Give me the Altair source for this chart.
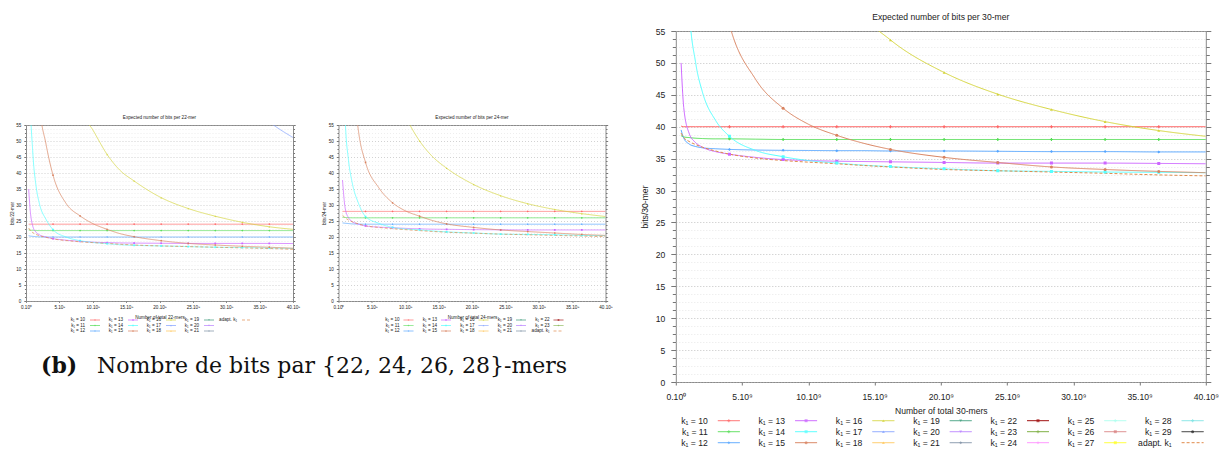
import altair as alt
import pandas as pd

FONT = "Liberation Sans"

# sampling positions (units of 1e9 k-mers) and the positions where gnuplot drew markers
XS = [0.4, 0.6, 1.0, 1.5, 2.0, 3.0, 4.05, 6.0, 8.1, 10.0, 12.15, 14.0, 16.2, 20.25, 24.3, 28.35, 32.4, 36.45, 40.0]
MARKER_X = [4.05, 8.1, 12.15, 16.2, 20.25, 24.3, 28.35, 32.4, 36.45]
X_TICKS = [0, 5, 10, 15, 20, 25, 30, 35, 40]

# ---- 22-mers ----
K10_22 = [24.0, 24.0, 24.0, 24.0, 24.0, 24.0, 24.0, 24.0, 24.0, 24.0, 24.0, 24.0, 24.0, 24.0, 24.0, 24.0, 24.0, 24.0, 24.0]
K11_22 = [22.2, 22.1, 22.1, 22.0, 22.0, 22.0, 22.0, 22.0, 22.0, 22.0, 22.0, 22.0, 22.0, 22.0, 22.0, 22.0, 22.0, 22.0, 22.0]
K12_22 = [20.4, 20.3, 20.2, 20.1, 20.05, 20.0, 20.0, 20.0, 20.0, 20.0, 20.0, 20.0, 20.0, 20.0, 20.0, 20.0, 20.0, 20.0, 20.0]
K13_22 = [35.0, 29.0, 23.5, 21.5, 20.7, 20.0, 19.5, 19.0, 18.65, 18.4, 18.25, 18.15, 18.1, 18.05, 18.0, 18.0, 18.0, 18.0, 17.95]
K14_22 = [110, 66, 47, 36, 30.5, 25.5, 22.3, 20.0, 18.85, 18.3, 17.9, 17.6, 17.4, 17.2, 17.0, 16.8, 16.7, 16.55, 16.4]
K15_22 = [300, 210, 130, 88, 62, 49, 39.3, 30.5, 26.6, 24.2, 22.4, 21.1, 20.1, 18.85, 18.0, 17.5, 17.1, 16.8, 16.5]
K16_22 = [900, 600, 380, 260, 200, 140, 110, 80, 60, 53.5, 45.8, 41.0, 37.5, 32.3, 28.9, 26.5, 24.6, 23.2, 22.4]
K17_22 = [None, None, None, None, None, None, None, None, None, None, None, None, None, 100, 86, 74, 64, 56, 51.1]
ADAPT_22 = [22.8, 22.2, 21.4, 20.8, 20.4, 19.9, 19.4, 18.9, 18.5, 18.25, 18.0, 17.75, 17.5, 17.2, 17.0, 16.8, 16.6, 16.4, 16.15]

# ---- 24-mers ----
K10_24 = [None, 28.0, 28.0, 28.0, 28.0, 28.0, 28.0, 28.0, 28.0, 28.0, 28.0, 28.0, 28.0, 28.0, 28.0, 28.0, 28.0, 28.0, 28.0]
K11_24 = [None, 26.2, 26.1, 26.05, 26.0, 26.0, 26.0, 26.0, 26.0, 26.0, 26.0, 26.0, 26.0, 26.0, 26.0, 26.0, 26.0, 26.0, 26.0]
K12_24 = [None, 24.4, 24.3, 24.2, 24.1, 24.05, 24.0, 24.0, 24.0, 24.0, 24.0, 24.0, 24.0, 24.0, 24.0, 24.0, 24.0, 24.0, 24.0]
K13_24 = [None, 37.8, 29.0, 26.0, 24.9, 24.0, 23.45, 23.1, 22.9, 22.7, 22.55, 22.45, 22.4, 22.3, 22.25, 22.2, 22.2, 22.2, 22.2]
K14_24 = [None, 90, 57, 44, 37.5, 30.5, 26.4, 24.3, 23.0, 22.5, 22.2, 21.9, 21.6, 21.25, 20.9, 20.8, 20.7, 20.5, 20.4]
K15_24 = [None, 230, 150, 100, 75, 53, 43.3, 35.5, 30.7, 28.2, 26.5, 25.2, 24.1, 23.0, 22.2, 21.7, 21.25, 20.8, 20.5]
K16_24 = [None, 650, 420, 290, 220, 150, 120, 85, 68, 58, 50.0, 45.3, 41.5, 36.4, 32.9, 30.4, 28.6, 27.3, 26.4]
ADAPT_24 = [None, 26.8, 26.0, 25.3, 24.8, 24.1, 23.5, 23.0, 22.6, 22.3, 22.0, 21.75, 21.5, 21.2, 20.9, 20.7, 20.5, 20.3, 20.1]

# ---- 30-mers ----
K10_30 = [40.1, 40.0, 40.0, 40.0, 40.0, 40.0, 40.0, 40.0, 40.0, 40.0, 40.0, 40.0, 40.0, 40.0, 40.0, 40.0, 40.0, 40.0, 40.0]
K11_30 = [38.6, 38.4, 38.3, 38.2, 38.15, 38.1, 38.1, 38.05, 38.0, 38.0, 38.0, 38.0, 38.0, 38.0, 38.0, 38.0, 38.0, 38.0, 38.0]
K12_30 = [39.5, 38.2, 37.3, 36.9, 36.7, 36.55, 36.45, 36.35, 36.3, 36.28, 36.25, 36.25, 36.2, 36.2, 36.15, 36.1, 36.1, 36.05, 36.05]
K13_30 = [50.0, 43.0, 39.0, 37.5, 36.8, 36.1, 35.7, 35.2, 34.85, 34.7, 34.6, 34.55, 34.5, 34.4, 34.3, 34.3, 34.3, 34.25, 34.2]
K14_30 = [110, 85, 59, 50, 45.5, 41.0, 38.5, 36.3, 35.3, 34.7, 34.3, 34.0, 33.75, 33.4, 33.1, 33.0, 32.9, 32.85, 32.8]
K15_30 = [400, 300, 160, 115, 90, 66, 56, 47.5, 42.9, 40.4, 38.65, 37.5, 36.45, 35.2, 34.4, 33.7, 33.3, 33.0, 32.8]
K16_30 = [1500, 1000, 600, 420, 320, 220, 160, 110, 82, 72, 64.5, 57.8, 53.6, 48.5, 45.1, 42.7, 40.8, 39.4, 38.5]
ADAPT_30 = [39.0, 38.3, 37.7, 37.2, 36.8, 36.2, 35.7, 35.1, 34.7, 34.45, 34.2, 33.95, 33.7, 33.3, 33.1, 32.9, 32.7, 32.45, 32.3]

K1_KEYS = ["10", "11", "12", "13", "14", "15", "16", "17", "18", "19", "20",
           "21", "22", "23", "24", "25", "26", "27", "28", "29", "adapt"]
K1_COLORS = ["#ff6666", "#55dd55", "#55a5ff", "#cc66ff", "#55ffff", "#d8825f", "#d4d43c",
             "#7f9fff", "#ffc455", "#3a9a78", "#b77fff", "#7d8fa3", "#a01010", "#7fb045",
             "#ff99ff", "#aaffee", "#d97f7f", "#ffff22", "#77e2e2", "#222222", "#e08a4a"]
K1_SHAPES = ["cross", "cross", "diamond", "square", "square", "circle", "triangle-up",
             "triangle-up", "triangle-up", "triangle-down", "triangle-down", "diamond",
             "square", "cross", "diamond", "cross", "square", "square", "cross", "circle", "circle"]

SERIES_22 = [("10", K10_22), ("11", K11_22), ("12", K12_22), ("13", K13_22), ("14", K14_22),
             ("15", K15_22), ("16", K16_22), ("17", K17_22), ("adapt", ADAPT_22)]
SERIES_24 = [("10", K10_24), ("11", K11_24), ("12", K12_24), ("13", K13_24), ("14", K14_24),
             ("15", K15_24), ("16", K16_24), ("adapt", ADAPT_24)]
SERIES_30 = [("10", K10_30), ("11", K11_30), ("12", K12_30), ("13", K13_30), ("14", K14_30),
             ("15", K15_30), ("16", K16_30), ("adapt", ADAPT_30)]

LEGEND_22 = K1_KEYS[:12] + ["adapt"]
LEGEND_24 = K1_KEYS[:14] + ["adapt"]
LEGEND_30 = K1_KEYS

CAPTION_B = "(b)"
CAPTION_REST = "Nombre de bits par {22, 24, 26, 28}-mers"

Y_MINOR = [i * 1.25 for i in range(45)]
MAJOR = "datum.value % 5 === 0"

color_scale = alt.Scale(domain=K1_KEYS, range=K1_COLORS)
shape_scale = alt.Scale(domain=K1_KEYS, range=K1_SHAPES)
dash_scale = alt.Scale(domain=["solid", "dash"], range=[[1, 0], [3, 2]])


def label_of(k):
    return "adapt. k\u2081" if k == "adapt" else "k\u2081 = " + k


def plot_panel(series, mer, w, h, s):
    rows = []
    for key, vals in series:
        for x, y in zip(XS, vals):
            if y is None:
                continue
            rows.append(dict(x=x, y=y, key=key,
                             dash="dash" if key == "adapt" else "solid",
                             mark=(x in MARKER_X) and key != "adapt"))
    df = pd.DataFrame(rows)
    xs = alt.Scale(domain=[0, 40], nice=False, zero=False)
    ys = alt.Scale(domain=[0, 55], nice=False, zero=False)
    tick_cond = {"condition": {"test": MAJOR, "value": s["tick"]}, "value": s["tick"] * 0.7}
    xaxis = alt.Axis(values=X_TICKS, grid=False, domain=False, labelOverlap=False,
                     labelBound=False, labelSeparation=0,
                     labelExpr="datum.value === 0 ? '0.10\u2070' : datum.value + '.10\u2079'",
                     labelFlush=False, labelFontSize=s["fs"], labelPadding=s["xlp"],
                     tickSize=s["tick"] * 0.6, tickColor="#777", labelColor="#222",
                     titleFontSize=s["fs"], titleFontWeight="normal", titlePadding=s["xtp"],
                     titleColor="#222", title="Number of total %d-mers" % mer)
    yaxis = alt.Axis(values=Y_MINOR, labelExpr=MAJOR + " ? datum.label : ''",
                     labelOverlap=False, domain=False, tickSize=tick_cond, tickColor="#777",
                     gridColor={"condition": {"test": MAJOR, "value": "#b4b4b4"}, "value": "#e2e2e2"},
                     gridDash=[1, 2], gridWidth=s["gw"],
                     labelFontSize=s["fs"], labelPadding=s["ylp"], labelColor="#222",
                     titleFontSize=s["fs"], titleFontWeight="normal", titlePadding=s["ytp"],
                     titleColor="#222", title="bits/%d-mer" % mer)
    raxis = alt.Axis(orient="right", values=Y_MINOR, labels=False, grid=False, domain=False,
                     tickSize=tick_cond, tickColor="#777", title=None)
    base = alt.Chart(df)
    lines = base.mark_line(clip=True, strokeWidth=s["sw"], interpolate="monotone").encode(
        x=alt.X("x:Q", scale=xs, axis=xaxis),
        y=alt.Y("y:Q", scale=ys, axis=yaxis),
        color=alt.Color("key:N", scale=color_scale, legend=None),
        strokeDash=alt.StrokeDash("dash:N", scale=dash_scale, legend=None),
        detail="key:N",
    )
    pts = base.transform_filter("datum.mark").mark_point(
        clip=True, filled=True, size=s["ms"], opacity=1).encode(
        x=alt.X("x:Q", scale=xs, axis=xaxis),
        y=alt.Y("y:Q", scale=ys, axis=None),
        color=alt.Color("key:N", scale=color_scale, legend=None),
        shape=alt.Shape("key:N", scale=shape_scale, legend=None),
    )
    # mirror ticks on the right-hand frame
    right = alt.Chart(pd.DataFrame({"t": Y_MINOR})).mark_point(opacity=0).encode(
        y=alt.Y("t:Q", scale=ys, axis=raxis))
    return alt.layer(lines, pts, right).resolve_axis(y="independent").properties(
        width=w, height=h,
        view=alt.ViewBackground(stroke="#8a8a8a", strokeWidth=1),
        title=alt.TitleParams("Expected number of bits per %d-mer" % mer, fontSize=s["fs"],
                              fontWeight="normal", font=FONT, color="#222",
                              anchor="middle", offset=s["toff"]),
    )


def legend_panel(keys, w, x0, dx, g1, g2, rowh, fs, sw, ms):
    rows = []
    for i, k in enumerate(keys):
        col, row = divmod(i, 3)
        xe = x0 + col * dx
        rows.append(dict(key=k, label=label_of(k), row=row, xt=xe, xa=xe + g1, xb=xe + g2,
                         xm=xe + (g1 + g2) / 2, dash="dash" if k == "adapt" else "solid",
                         mark=k != "adapt"))
    df = pd.DataFrame(rows)
    xsc = alt.Scale(domain=[0, w], nice=False, zero=False)
    ysc = alt.Scale(domain=[-0.5, 2.5], reverse=True, nice=False, zero=False)
    base = alt.Chart(df)
    text = base.mark_text(align="right", baseline="middle", fontSize=fs, font=FONT,
                          color="#222").encode(
        x=alt.X("xt:Q", scale=xsc, axis=None), y=alt.Y("row:Q", scale=ysc, axis=None),
        text="label:N")
    rule = base.mark_rule(strokeWidth=sw).encode(
        x=alt.X("xa:Q", scale=xsc, axis=None), x2="xb:Q",
        y=alt.Y("row:Q", scale=ysc, axis=None),
        color=alt.Color("key:N", scale=color_scale, legend=None),
        strokeDash=alt.StrokeDash("dash:N", scale=dash_scale, legend=None))
    pts = base.transform_filter("datum.mark").mark_point(filled=True, size=ms).encode(
        x=alt.X("xm:Q", scale=xsc, axis=None), y=alt.Y("row:Q", scale=ysc, axis=None),
        color=alt.Color("key:N", scale=color_scale, legend=None),
        shape=alt.Shape("key:N", scale=shape_scale, legend=None))
    return alt.layer(text, rule, pts).properties(width=w, height=3 * rowh)


def blank(w, h, layers=()):
    # an invisible rectangle fixes the bounds of a spacer / caption panel
    box = alt.Chart(pd.DataFrame({"v": [0]})).mark_rect(opacity=0).encode(
        x=alt.value(0), x2=alt.value(w), y=alt.value(0), y2=alt.value(h))
    return alt.layer(box, *layers).properties(width=w, height=h)


SMALL = dict(fs=4.6, xlp=2.5, xtp=4.8, tick=2.2, gw=0.6, ylp=3.0, ytp=1.5, sw=0.7, ms=3, toff=2)
BIG = dict(fs=8.6, xlp=7, xtp=6, tick=5, gw=0.8, ylp=6, ytp=6, sw=1.0, ms=9, toff=5)

W_S, H_S = 267, 176
W_B, H_B = 530, 351

p1 = alt.vconcat(plot_panel(SERIES_22, 22, W_S, H_S, SMALL),
                 legend_panel(LEGEND_22, W_S, 59, 38, 5, 15, 5.5, 4.6, 0.7, 3),
                 spacing=16.25, bounds="flush")
p2 = alt.vconcat(plot_panel(SERIES_24, 24, W_S, H_S, SMALL),
                 legend_panel(LEGEND_24, W_S, 61, 37.5, 4, 14, 5.5, 4.6, 0.7, 3),
                 spacing=16.25, bounds="flush")
p3 = alt.vconcat(plot_panel(SERIES_30, 30, W_B, H_B, BIG),
                 legend_panel(LEGEND_30, W_B, 32, 77.3, 10, 32, 11, 8.6, 1.0, 9),
                 spacing=33.2, bounds="flush")

cap_df = pd.DataFrame({"b": [CAPTION_B], "t": [CAPTION_REST]})
cap_b = alt.Chart(cap_df).mark_text(align="left", baseline="alphabetic", font="DejaVu Serif",
                                    fontSize=22, fontWeight="bold", color="#111").encode(
    x=alt.value(15), y=alt.value(39), text="b:N")
cap_t = alt.Chart(cap_df).mark_text(align="left", baseline="alphabetic", font="DejaVu Serif",
                                    fontSize=22, color="#111").encode(
    x=alt.value(71), y=alt.value(39), text="t:N")
caption = blank(560, 50, [cap_b, cap_t])
spacer = blank(300, 83.0)

left = alt.vconcat(spacer, alt.hconcat(p1, p2, spacing=19.5), caption, spacing=0)

chart = alt.hconcat(left, p3, spacing=25.8).properties(
    padding={"left": 0, "top": 4, "right": 0, "bottom": 0}
).configure(font=FONT).configure_view(stroke=None)

chart.save("out.html", embed_options={"renderer": "svg", "actions": False})
